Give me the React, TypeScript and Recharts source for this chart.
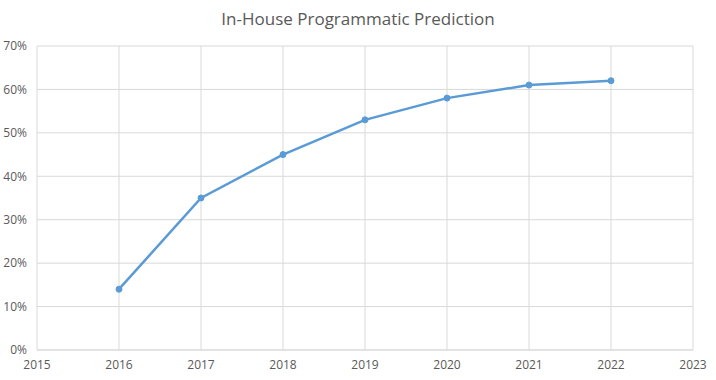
import React from "react";
import { LineChart, Line, XAxis, YAxis, CartesianGrid } from "recharts";

const years = [2016, 2017, 2018, 2019, 2020, 2021, 2022];
const share = [14, 35, 45, 53, 58, 61, 62];
const xTicks = [2015, 2016, 2017, 2018, 2019, 2020, 2021, 2022, 2023];
const yTicks = [0, 10, 20, 30, 40, 50, 60, 70];
const title = "In-House Programmatic Prediction";

const data = years.map((y, i) => ({ year: y, value: share[i] }));

const COLOR = "#5B9BD5";
const GRID = "#D9D9D9";
const TEXT = "#595959";
const FONT = "'Open Sans', 'Liberation Sans', sans-serif";

export default function App() {
  return (
    <div style={{ position: "absolute", left: 0, top: 0, width: 716, height: 380, background: "#fff", fontFamily: FONT }}>
      <div
        style={{
          position: "absolute",
          top: 7,
          left: 0,
          width: 716,
          textAlign: "center",
          fontSize: 17,
          color: TEXT,
          fontFamily: FONT,
        }}
      >
        {title}
      </div>
      <LineChart
        width={716}
        height={380}
        data={data}
        margin={{ top: 46, right: 23, bottom: 0, left: 0 }}
      >
        <CartesianGrid stroke={GRID} strokeWidth={1} vertical horizontal />
        <XAxis
          dataKey="year"
          type="number"
          domain={[2015, 2023]}
          ticks={xTicks}
          interval={0}
          height={30}
          tickLine={false}
          axisLine={{ stroke: GRID }}
          tickSize={0}
          tickMargin={10}
          tick={{ fill: TEXT, fontSize: 12, fontFamily: FONT }}
        />
        <YAxis
          type="number"
          domain={[0, 70]}
          ticks={yTicks}
          interval={0}
          width={37}
          tickLine={false}
          axisLine={false}
          tickSize={0}
          tickMargin={10}
          tickFormatter={(v: number) => `${v}%`}
          tick={{ fill: TEXT, fontSize: 12, fontFamily: FONT }}
        />
        <Line
          type="linear"
          dataKey="value"
          stroke={COLOR}
          strokeWidth={2.5}
          dot={{ r: 3, fill: COLOR, stroke: COLOR, strokeWidth: 1 }}
          activeDot={false}
          isAnimationActive={false}
        />
      </LineChart>
    </div>
  );
}
